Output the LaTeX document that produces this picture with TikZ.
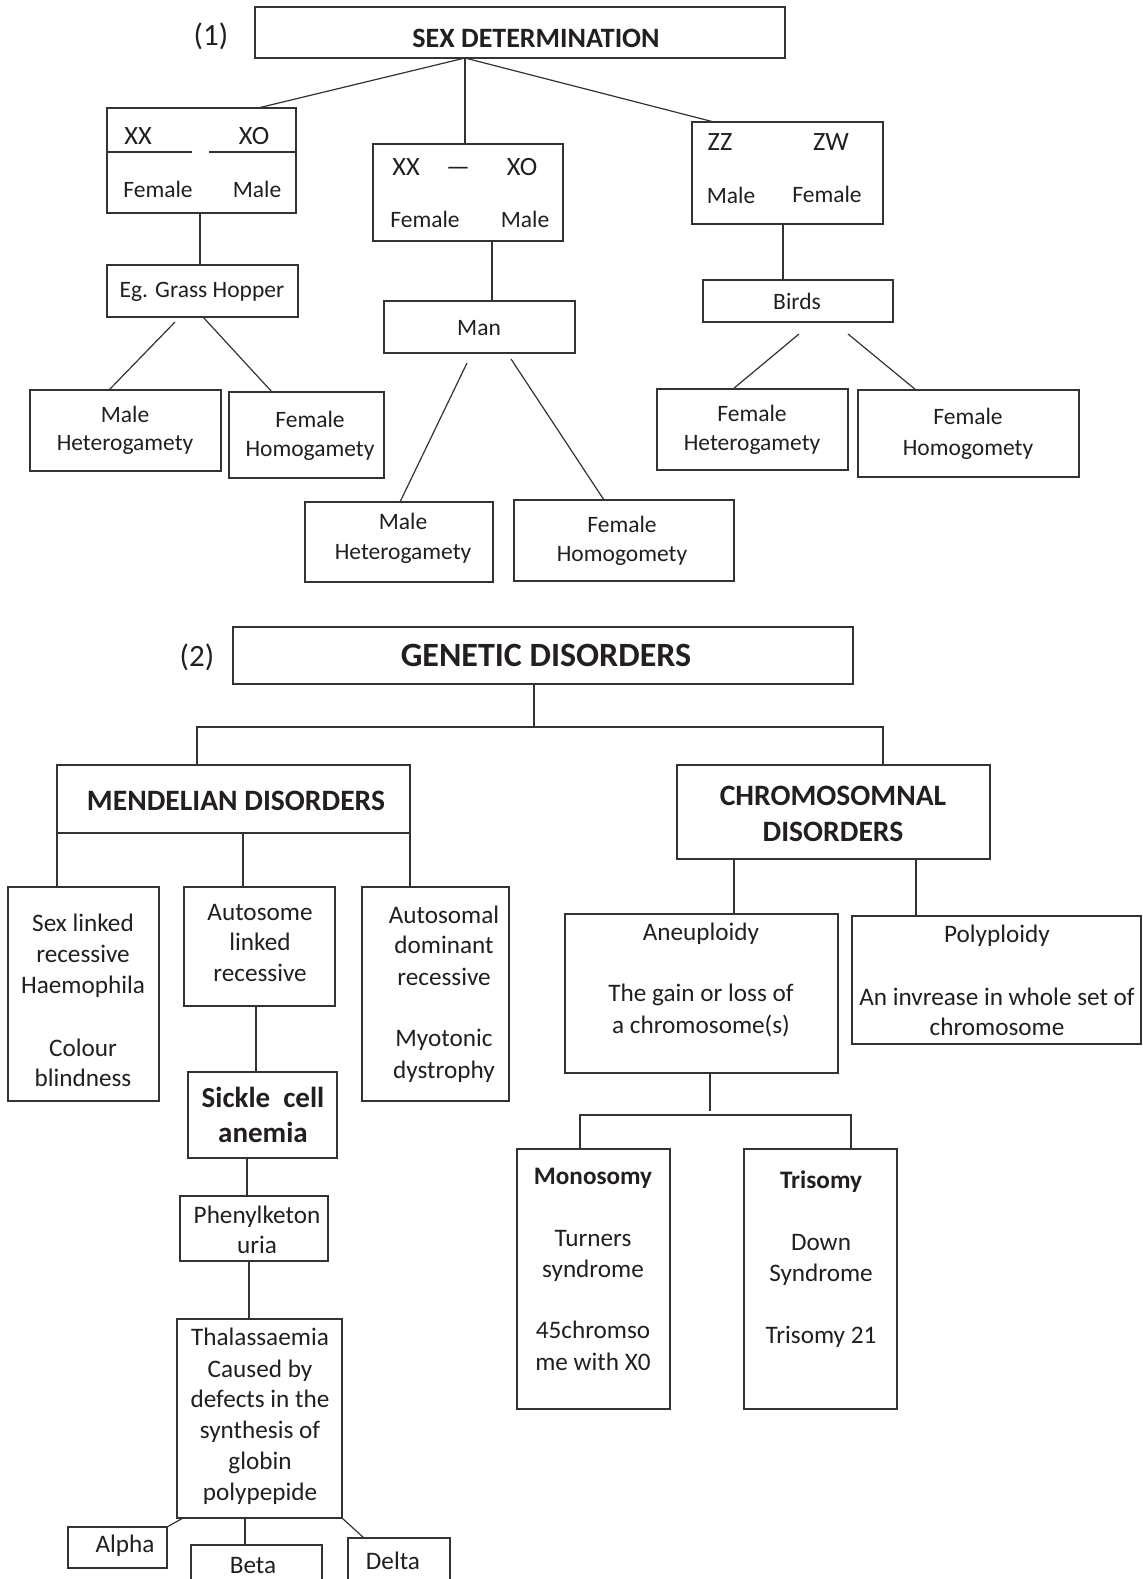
\documentclass[tikz,border=0pt]{standalone}
\usepackage{fontspec}
\setmainfont{Carlito}
\definecolor{ln}{HTML}{333333}
\definecolor{tc}{HTML}{231F20}
\newcommand\bx[6][]{\node[bx,#1,minimum width={(#5-#3)*0.5pt},minimum height={(#6-#4)*0.5pt}] (#2) at ({(#3+#5)/2},{(#4+#6)/2}) {};}
\newcommand\tx[5][]{\node[txt,#1] (#2) at (#3,#4) {#5};}
\begin{document}
\begin{tikzpicture}[x=0.5pt,y=-0.5pt,
  bx/.style={draw=ln, line width=0.65pt, inner sep=0pt, outer sep=0pt, rectangle},
  thickbx/.style={line width=1.3pt},
  txt/.style={anchor=base, inner sep=0pt, text=tc, font=\fontsize{11.75pt}{14pt}\selectfont},
  big/.style={font=\fontsize{12.6pt}{15pt}\selectfont},
  chr/.style={font=\fontsize{13.2pt}{15pt}\selectfont},
  lbl/.style={font=\fontsize{15.5pt}{18pt}\selectfont},
  hA/.style={font=\fontsize{14pt}{17pt}\selectfont\bfseries},
  hB/.style={font=\fontsize{17pt}{20pt}\selectfont\bfseries},
  hC/.style={font=\fontsize{14.8pt}{18pt}\selectfont\bfseries},
  hD/.style={font=\fontsize{14.5pt}{18pt}\selectfont\bfseries},
  hE/.style={font=\fontsize{12.6pt}{15pt}\selectfont\bfseries},
  conn/.style={draw=ln, line width=0.6pt}]
\fill[white] (0,0) rectangle (1142,1579);
\useasboundingbox (0,0) rectangle (1142,1579);
\foreach \v in {465,258,714,200,109,203,272,492,400,604,783,733,916,197,534,883,243,256,247,249,183,245,364,734,710,580,851}
  \coordinate (p\v) at (\v,0);
\coordinate (y152) at (0,152);
\coordinate (gA) at (175,322);
\coordinate (mA) at (467,363);
\coordinate (mB) at (511,359);
\coordinate (bA) at (799,334);
\coordinate (bB) at (848,334);
\coordinate (j1) at (534,727);
\coordinate (j2) at (710,1111);
\coordinate (j3) at (710,1115);
\coordinate (sL) at (192,152);
\coordinate (sR) at (209,152);
% ---------- boxes: section 1
\bx{sed}{255}{7}{785}{58}
\bx{xo}{107}{108}{296}{213}
\bx{xom}{373}{144}{563}{241}
\bx{zw}{692}{122}{883}{224}
\bx{gh}{107}{265}{298}{317}
\bx{mh1}{30}{390}{221}{471}
\bx{fh1}{229}{392}{384}{478}
\bx{man}{384}{301}{575}{353}
\bx{mh2}{305}{502}{493}{582}
\bx{fh2}{514}{500}{734}{581}
\bx{birds}{703}{280}{893}{322}
\bx{fhet}{657}{389}{848}{470}
\bx{fhom}{858}{390}{1079}{477}
% ---------- boxes: section 2
\bx[thickbx]{gen}{233}{627}{853}{684}
\bx{mend}{57}{765}{410}{833}
\bx{chrom}{677}{765}{990}{859}
\bx{sexl}{8}{887}{159}{1101}
\bx{autos}{184}{887}{335}{1006}
\bx{autod}{362}{887}{509}{1101}
\bx{sickle}{188}{1072}{337}{1158}
\bx{phen}{180}{1196}{328}{1261}
\bx{thal}{177}{1319}{342}{1518}
\bx{alpha}{68}{1527}{167}{1568}
\bx{beta}{191}{1545}{322}{1590}
\bx{delta}{348}{1538}{450}{1590}
\bx{aneu}{565}{914}{838}{1073}
\bx{poly}{852}{916}{1141}{1044}
\bx{mono}{517}{1149}{670}{1409}
\bx{tri}{744}{1149}{897}{1409}
% ---------- connectors: section 1
\draw[conn] (sed.south -| p465) -- (xo.north -| p258);
\draw[conn] (sed.south -| p465) -- (xom.north -| p465);
\draw[conn] (sed.south -| p465) -- (zw.north -| p714);
\draw[conn] (xo.west |- y152) -- (sL);
\draw[conn] (sR) -- (xo.east |- y152);
\draw[conn] (xo.south -| p200) -- (gh.north -| p200);
\draw[conn] (gA) -- (mh1.north -| p109);
\draw[conn] (gh.south -| p203) -- (fh1.north -| p272);
\draw[conn] (xom.south -| p492) -- (man.north -| p492);
\draw[conn] (mA) -- (mh2.north -| p400);
\draw[conn] (mB) -- (fh2.north -| p604);
\draw[conn] (zw.south -| p783) -- (birds.north -| p783);
\draw[conn] (bA) -- (fhet.north -| p733);
\draw[conn] (bB) -- (fhom.north -| p916);
% ---------- connectors: section 2
\draw[conn] (gen.south -| p534) -- (j1);
\draw[conn] (mend.north -| p197) |- (j1) -| (chrom.north -| p883);
\draw[conn] (mend.south west) -- (mend.south west |- sexl.north);
\draw[conn] (mend.south -| p243) -- (autos.north -| p243);
\draw[conn] (mend.south east) -- (mend.south east |- autod.north);
\draw[conn] (autos.south -| p256) -- (sickle.north -| p256);
\draw[conn] (sickle.south -| p247) -- (phen.north -| p247);
\draw[conn] (phen.south -| p249) -- (thal.north -| p249);
\draw[conn] (alpha.north east) -- (thal.south -| p183);
\draw[conn] (thal.south -| p245) -- (beta.north -| p245);
\draw[conn] (thal.south east) -- (delta.north -| p364);
\draw[conn] (chrom.south -| p734) -- (aneu.north -| p734);
\draw[conn] (chrom.south -| p916) -- (poly.north -| p916);
\draw[conn] (aneu.south -| p710) -- (j2);
\draw[conn] (mono.north -| p580) |- (j3) -| (tri.north -| p851);
% ---------- texts: section 1
\tx[lbl]{t1}{211}{46}{(1)}
\tx[hA]{t2}{536}{47}{SEX DETERMINATION}
\tx[chr]{t3}{138}{144}{XX}
\tx[chr]{t4}{254}{144}{XO}
\tx{t5}{158}{197}{Female}
\tx{t6}{257}{197}{Male}
\tx[chr]{t7}{406}{175}{XX}
\tx[chr]{t8}{458}{175}{—}
\tx[chr]{t9}{522}{175}{XO}
\tx{t10}{425}{227}{Female}
\tx{t11}{525}{227}{Male}
\tx[chr]{t12}{720}{150}{ZZ}
\tx[chr]{t13}{831}{150}{ZW}
\tx{t14}{731}{203}{Male}
\tx{t15}{827}{202}{Female}
\tx{t16}{202}{297}{Eg. Grass Hopper}
\tx{t17}{125}{422}{Male}
\tx{t18}{125}{450}{Heterogamety}
\tx{t19}{310}{427}{Female}
\tx{t20}{310}{456}{Homogamety}
\tx{t21}{479}{335}{Man}
\tx{t22}{403}{529}{Male}
\tx{t23}{403}{559}{Heterogamety}
\tx{t24}{622}{532}{Female}
\tx{t25}{622}{561}{Homogomety}
\tx{t26}{797}{309}{Birds}
\tx{t27}{752}{421}{Female}
\tx{t28}{752}{450}{Heterogamety}
\tx{t29}{968}{424}{Female}
\tx{t30}{968}{455}{Homogomety}
% ---------- texts: section 2
\tx[lbl]{t31}{197}{666}{(2)}
\tx[hB]{t32}{546}{666}{GENETIC DISORDERS}
\tx[hC]{t33}{236}{810}{MENDELIAN DISORDERS}
\tx[hC]{t34}{833}{805}{CHROMOSOMNAL}
\tx[hC]{t35}{833}{841}{DISORDERS}
\tx[big]{t36}{83}{931}{Sex linked}
\tx[big]{t37}{83}{962}{recessive}
\tx[big]{t38}{83}{993}{Haemophila}
\tx[big]{t39}{83}{1056}{Colour}
\tx[big]{t40}{83}{1086}{blindness}
\tx[big]{t41}{260}{920}{Autosome}
\tx[big]{t42}{260}{950}{linked}
\tx[big]{t43}{260}{981}{recessive}
\tx[big]{t44}{444}{923}{Autosomal}
\tx[big]{t45}{444}{953}{dominant}
\tx[big]{t46}{444}{985}{recessive}
\tx[big]{t47}{444}{1046}{Myotonic}
\tx[big]{t48}{444}{1078}{dystrophy}
\tx[hD]{t49}{263}{1107}{Sickle\ \ cell}
\tx[hD]{t50}{263}{1142}{anemia}
\tx[big]{t51}{257}{1223}{Phenylketon}
\tx[big]{t52}{257}{1253}{uria}
\tx[big]{t53}{260}{1345}{Thalassaemia}
\tx[big]{t54}{260}{1377}{Caused by}
\tx[big]{t55}{260}{1407}{defects in the}
\tx[big]{t56}{260}{1438}{synthesis of}
\tx[big]{t57}{260}{1469}{globin}
\tx[big]{t58}{260}{1500}{polypepide}
\tx[big]{t59}{125}{1552}{Alpha}
\tx[big]{t60}{253}{1573}{Beta}
\tx[big]{t61}{393}{1569}{Delta}
\tx[big]{t62}{701}{940}{Aneuploidy}
\tx[big]{t63}{701}{1001}{The gain or loss of}
\tx[big]{t64}{701}{1033}{a chromosome(s)}
\tx[big]{t65}{997}{942}{Polyploidy}
\tx[big]{t66}{997}{1005}{An invrease in whole set of}
\tx[big]{t67}{997}{1035}{chromosome}
\tx[hE]{t68}{593}{1184}{Monosomy}
\tx[big]{t69}{593}{1246}{Turners}
\tx[big]{t70}{593}{1277}{syndrome}
\tx[big]{t71}{593}{1338}{45chromso}
\tx[big]{t72}{593}{1370}{me with X0}
\tx[hE]{t73}{821}{1188}{Trisomy}
\tx[big]{t74}{821}{1250}{Down}
\tx[big]{t75}{821}{1281}{Syndrome}
\tx[big]{t76}{821}{1343}{Trisomy 21}
\end{tikzpicture}
\end{document}
